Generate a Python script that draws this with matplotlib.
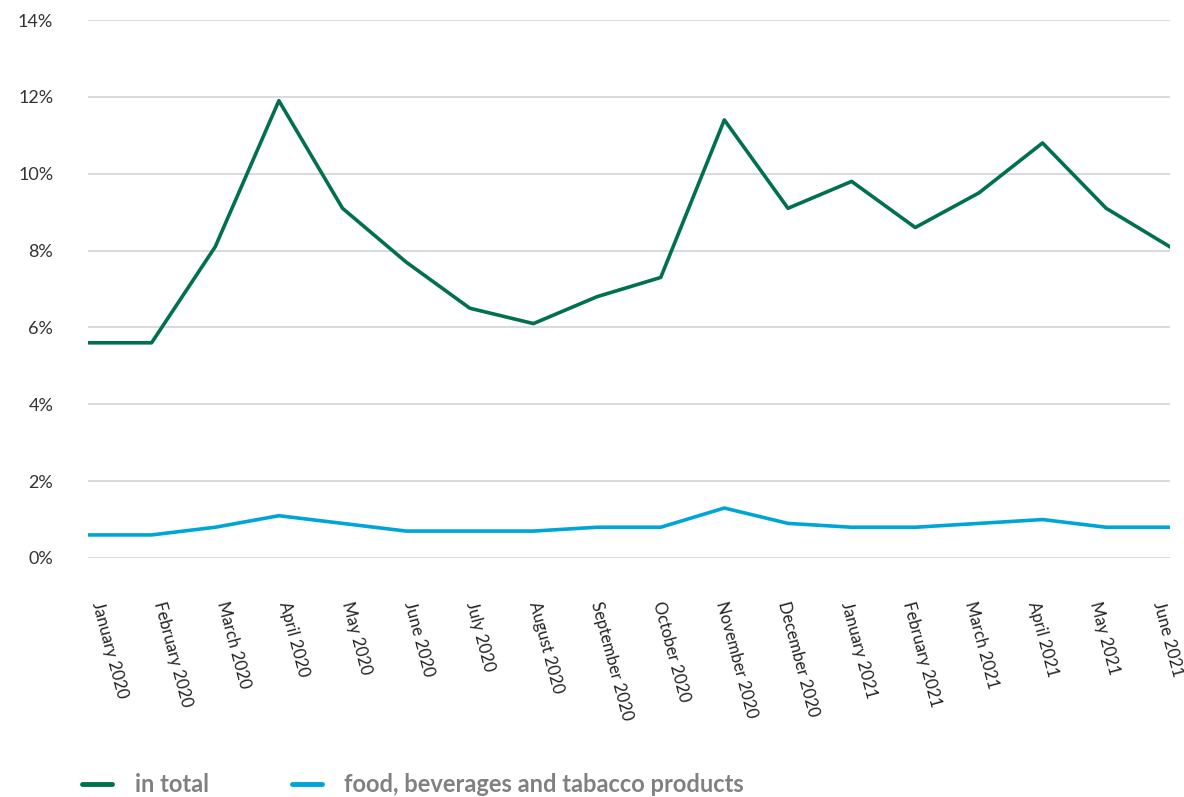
import matplotlib
matplotlib.use("Agg")
import matplotlib.pyplot as plt
from matplotlib.ticker import FuncFormatter
from matplotlib.transforms import ScaledTranslation

# monthly values in percent
months = ["January 2020", "February 2020", "March 2020", "April 2020", "May 2020",
          "June 2020", "July 2020", "August 2020", "September 2020", "October 2020",
          "November 2020", "December 2020", "January 2021", "February 2021",
          "March 2021", "April 2021", "May 2021", "June 2021"]
in_total = [5.6, 5.6, 8.1, 11.9, 9.1, 7.7, 6.5, 6.1, 6.8, 7.3,
            11.4, 9.1, 9.8, 8.6, 9.5, 10.8, 9.1, 8.1]
food = [0.6, 0.6, 0.8, 1.1, 0.9, 0.7, 0.7, 0.7, 0.8, 0.8,
        1.3, 0.9, 0.8, 0.8, 0.9, 1.0, 0.8, 0.8]
y_ticks = [0, 2, 4, 6, 8, 10, 12, 14]

plt.rcParams['font.family'] = ['Lato', 'DejaVu Sans']

fig = plt.figure(figsize=(11.84, 7.97), dpi=100)
ax = fig.add_axes([0.0743, 0.2999, 0.9137, 0.675])

x = list(range(len(months)))
ax.plot(x, in_total, color='#00704F', lw=2.6, label='in total')
ax.plot(x, food, color='#00A5D8', lw=2.6, label='food, beverages and tabacco products')

ax.set_xlim(0, len(months) - 1)
ax.set_ylim(0, 14)
ax.set_yticks(y_ticks)
ax.yaxis.set_major_formatter(FuncFormatter(lambda v, p: f"{v:.0f}%"))
ax.grid(axis='y', color='#d0d0d0', lw=1.1)
ax.set_axisbelow(True)
for s in ax.spines.values():
    s.set_visible(False)

ax.set_xticks(x)
ax.set_xticklabels(months, rotation=-75, ha='left', va='top')
ax.tick_params(axis='x', length=0, pad=30, labelsize=12, labelcolor='#222222')
ax.tick_params(axis='y', length=0, pad=25, labelsize=13, labelcolor='#333333')

# rotated labels drift slightly left along the axis so the last one stays inside
n = len(months)
for i, lab in enumerate(ax.get_xticklabels()):
    dx = (1 - 21 * i / (n - 1)) / 100
    lab.set_transform(lab.get_transform() + ScaledTranslation(dx, 0, fig.dpi_scale_trans))

leg = fig.legend(loc='center left', bbox_to_anchor=(82 / 1184, 12 / 797), ncol=2,
                 frameon=False, borderpad=0, borderaxespad=0,
                 handlelength=1.27, handletextpad=0.97, columnspacing=3.5,
                 prop={'size': 17, 'weight': 'bold'})
for t in leg.get_texts():
    t.set_color('#808080')
for h in leg.get_lines():
    h.set_linewidth(3.5)
    h.set_solid_capstyle('round')

fig.savefig('out.png', dpi=100)
